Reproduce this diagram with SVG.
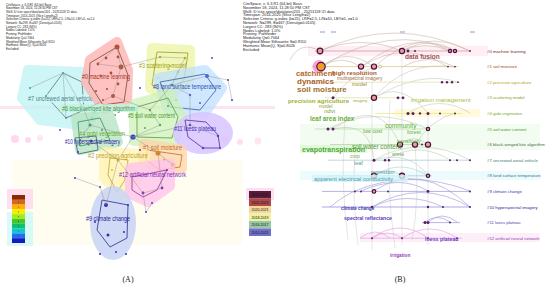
<svg xmlns="http://www.w3.org/2000/svg" width="550" height="289" viewBox="0 0 550 289">
<style>
text{font-family:"Liberation Sans",Arial,sans-serif}
.hd{font-size:3px;fill:#222}
.hdr{font-size:3.9px;fill:#222}
.cl{font-size:6.5px}
.hull{stroke-width:10;stroke-linejoin:round}
.ol{fill:none;stroke-width:0.8}
.e{stroke:#8a8a8a;stroke-width:0.5;fill:none;opacity:0.8}
.arc{fill:none;stroke-width:0.6}
.row{stroke-width:0.7}
.rl{font-size:4.3px}
.kw{font-weight:bold}
.bn{stroke:#4a1040;stroke-width:1.2;fill:#e6a0a0}
.sn{fill:#5a2060}
.cap{font-family:"Liberation Serif","Times New Roman",serif;font-size:8px;fill:#222}
.lg{font-size:3.6px;fill:#111}
</style>

<rect width="550" height="289" fill="#ffffff"/>

<!-- ===== Panel A ===== -->
<g id="panelA-bg">
<rect x="12" y="160" width="230" height="85" fill="#fffbe4" opacity="0.6"/>
<rect x="0" y="106" width="275" height="3" fill="#ffd0e8" opacity="0.6"/>
<circle cx="15" cy="139" r="4" fill="#ffc8e8" opacity="0.7"/>
<circle cx="28" cy="140" r="3" fill="#ffc8e8" opacity="0.7"/>
<circle cx="40" cy="138" r="3" fill="#ffd4ec" opacity="0.6"/>
<circle cx="225" cy="140" r="3.5" fill="#ffc8e8" opacity="0.6"/>
<circle cx="240" cy="142" r="3" fill="#ffc8e8" opacity="0.6"/>
<circle cx="258" cy="141" r="3.5" fill="#ffd4ec" opacity="0.6"/>
</g>

<g id="headerA">
<text class="hd" x="6" y="5.5">CiteSpace, v. 6.3.R1 (64-bit) Basic</text>
<text class="hd" x="6" y="9.2">November 18, 2024, 11:28:50 PM CST</text>
<text class="hd" x="6" y="12.9">WoS: D:\cite space\data\wos\201 - 20251118 \2\ data</text>
<text class="hd" x="6" y="16.6">Timespan: 2014-2025 (Slice Length=2)</text>
<text class="hd" x="6" y="20.3">Selection Criteria: g-index (k=25), LRF=2.5, L/N=10, LBY=5, e=1.0</text>
<text class="hd" x="6" y="24">Network: N=299, E=467 (Density=0.0105)</text>
<text class="hd" x="6" y="27.7">Largest CC: 283 (94%)</text>
<text class="hd" x="6" y="31.4">Nodes Labeled: 1.0%</text>
<text class="hd" x="6" y="35.1">Pruning: Pathfinder</text>
<text class="hd" x="6" y="38.8">Modularity Q=0.7064</text>
<text class="hd" x="6" y="42.5">Weighted Mean Silhouette S=0.9110</text>
<text class="hd" x="6" y="46.2">Harmonic Mean(Q, S)=0.8026</text>
<text class="hd" x="6" y="49.9">Excluded:</text>
</g>

<!-- cluster hulls -->
<g id="a-c7"><polygon class="hull" points="28,70 82,72 96,108 88,126 40,120 22,98" fill="#bff3f3" stroke="#bff3f3" opacity="0.75"/>
<polygon class="ol" stroke="#557878" points="63,73 82,82 84,110 66,118 46,96"/>
<rect x="26" y="94.5" width="70" height="8" fill="#ccf7f7" opacity="0.8"/>
<circle cx="63" cy="73" r="1" fill="#3aa0a0"/><circle cx="84" cy="110" r="1.2" fill="#3aa0a0"/><circle cx="66" cy="118" r="1" fill="#3aa0a0"/><circle cx="46" cy="96" r="1" fill="#3aa0a0"/><circle cx="30" cy="88" r="1" fill="#3aa0a0"/>
<text class="cl" x="28" y="100.5" fill="#4f7f80" textLength="65" lengthAdjust="spacingAndGlyphs">#7 uncrewed aerial vehicle</text></g>

<g id="a-c0"><polygon class="hull" points="90,60 117,42 128,70 127,104 103,108 86,82" fill="#ffb3b3" stroke="#ffb3b3" opacity="0.8"/>
<polygon class="ol" stroke="#7a4a2a" points="90,63 117,47 128,75 124,102 103,105 89,83"/>
<circle cx="117" cy="47" r="2.5" fill="#b0502a"/><circle cx="118" cy="57" r="1.4" fill="#b0502a"/><circle cx="106" cy="58" r="1.4" fill="#b0502a"/><circle cx="98" cy="64" r="1.4" fill="#b0502a"/><circle cx="121" cy="67" r="2.4" fill="#b0502a"/><circle cx="111" cy="73" r="1.4" fill="#b0502a"/><circle cx="101" cy="76" r="1.1" fill="#b0502a"/><circle cx="118" cy="84" r="1.4" fill="#b0502a"/><circle cx="107" cy="89" r="1.1" fill="#b0502a"/><circle cx="96" cy="91" r="1.1" fill="#b0502a"/><circle cx="113" cy="96" r="2" fill="#b0502a"/><circle cx="103" cy="100" r="1.1" fill="#b0502a"/>
<text class="cl" x="82" y="79" fill="#a33420" textLength="48" lengthAdjust="spacingAndGlyphs">#0 machine learning</text></g>

<g id="a-c3"><polygon class="hull" points="152,48 190,50 190,80 168,98 150,88" fill="#eef5a8" stroke="#eef5a8" opacity="0.8"/>
<polygon class="ol" stroke="#9a9a30" points="157,52 188,53 184,80 165,95 152,85"/>
<circle cx="160" cy="57" r="1.3" fill="#b8b830"/><circle cx="185" cy="58" r="1.3" fill="#b8b830"/><circle cx="178" cy="72" r="1.5" fill="#b8b830"/><circle cx="170" cy="66" r="1" fill="#b8b830"/><circle cx="158" cy="78" r="1" fill="#b8b830"/>
<text class="cl" x="139" y="68" fill="#a0a020" textLength="47" lengthAdjust="spacingAndGlyphs">#3 scattering model</text></g>

<g id="a-c8"><polygon class="hull" points="158,78 205,70 222,88 205,113 168,110" fill="#bfe0ff" stroke="#bfe0ff" opacity="0.75"/>
<polygon class="ol" stroke="#3a5aa0" points="160,82 205,74 216,90 200,110 170,107"/>
<circle cx="207" cy="76" r="2" fill="#3a6ad0"/><circle cx="172" cy="85" r="1.2" fill="#3a6ad0"/><circle cx="190" cy="95" r="1.2" fill="#3a6ad0"/><circle cx="200" cy="103" r="1" fill="#3a6ad0"/><circle cx="176" cy="100" r="1" fill="#3a6ad0"/>
<text class="cl" x="153" y="89" fill="#3050b0" textLength="68" lengthAdjust="spacingAndGlyphs">#8 land surface temperature</text></g>

<g id="a-c5"><polygon class="hull" points="134,104 170,94 182,117 174,142 134,141" fill="#cdf2b8" stroke="#cdf2b8" opacity="0.75"/>
<polygon class="ol" stroke="#5a9a3a" points="137,107 168,98 178,117 172,138 137,137"/>
<circle cx="150" cy="110" r="1.2" fill="#50b040"/><circle cx="160" cy="125" r="1.2" fill="#50b040"/><circle cx="145" cy="128" r="1" fill="#50b040"/><circle cx="168" cy="106" r="1" fill="#50b040"/>
<circle cx="133" cy="137" r="2.6" fill="#3a3ad0"/>
<text class="cl" x="128" y="118" fill="#4c9a2c" textLength="47" lengthAdjust="spacingAndGlyphs">#5 soil water content</text></g>

<g id="a-c11"><ellipse cx="203" cy="133" rx="30" ry="21" fill="#d8c4ff" opacity="0.85"/>
<polygon class="ol" stroke="#4a30a0" points="185,120 206,122 218,135 220,148 203,148 188,137"/>
<circle cx="218" cy="136" r="1.2" fill="#5a3ac0"/><circle cx="203" cy="148" r="1.2" fill="#5a3ac0"/><circle cx="190" cy="125" r="1.2" fill="#5a3ac0"/><circle cx="220" cy="148" r="1" fill="#5a3ac0"/>
<text class="cl" x="174" y="131" fill="#3a2ac0" textLength="42" lengthAdjust="spacingAndGlyphs">#11 loess plateau</text></g>

<g id="a-c6"><rect x="60" y="104" width="78" height="8" fill="#c4f4dc" opacity="0.8"/>
<circle cx="92" cy="118" r="1" fill="#40a060"/><circle cx="115" cy="115" r="1" fill="#40a060"/>
<text class="cl" x="62" y="110.5" fill="#3a9a5a" textLength="73" lengthAdjust="spacingAndGlyphs">#6 black-winged kite algorithm</text></g>

<g id="a-c4"><polygon class="hull" points="76,118 110,116 118,142 80,150" fill="#b4e4c0" stroke="#b4e4c0" opacity="0.75"/>
<polygon class="ol" stroke="#3a8a6a" points="78,122 100,118 110,140 80,146"/>
<circle cx="90" cy="125" r="1.5" fill="#30a060"/><circle cx="80" cy="140" r="1.2" fill="#30a060"/><circle cx="102" cy="130" r="1" fill="#30a060"/>
<text class="cl" x="79" y="135.5" fill="#6aac2c" textLength="46" lengthAdjust="spacingAndGlyphs">#4 gobi vegetation</text></g>

<g id="a-c10"><polygon class="ol" stroke="#3a6070" points="75,138 96,136 98,150 78,154"/>
<circle cx="91" cy="141" r="1.5" fill="#3a3ad0"/><circle cx="78" cy="152" r="1" fill="#3a3ad0"/>
<text class="cl" x="65" y="144" fill="#2a1aa0" textLength="55" lengthAdjust="spacingAndGlyphs">#10 hyperspectral imagery</text></g>

<g id="a-c1"><polygon class="hull" points="144,144 182,150 182,168 160,172 143,160" fill="#ffd4a8" stroke="#ffd4a8" opacity="0.75"/>
<polygon class="ol" stroke="#c07020" points="147,150 182,155 180,167 160,170 146,160"/>
<circle cx="158" cy="153" r="2.6" fill="#e08a20"/><circle cx="173" cy="165" r="2.3" fill="#e08a20"/><circle cx="164" cy="160" r="1.2" fill="#e08a20"/>
<text class="cl" x="143" y="149.5" fill="#c06a18" textLength="39" lengthAdjust="spacingAndGlyphs">#1 soil moisture</text></g>

<g id="a-c2"><polygon class="hull" points="104,152 146,154 140,176 120,194 104,178" fill="#fff3b0" stroke="#fff3b0" opacity="0.75"/>
<polygon class="ol" stroke="#c0a030" points="110,158 128,160 125,180 117,192 108,175"/>
<circle cx="118" cy="160" r="1.6" fill="#d8c020"/><circle cx="125" cy="178" r="1" fill="#d8c020"/><circle cx="112" cy="170" r="1" fill="#d8c020"/>
<text class="cl" x="88" y="158" fill="#bca020" textLength="60" lengthAdjust="spacingAndGlyphs">#2 precision agriculture</text></g>

<g id="a-c12"><polygon class="hull" points="130,168 170,164 170,186 148,202 130,194" fill="#ffc4ec" stroke="#ffc4ec" opacity="0.8"/>
<polygon class="ol" stroke="#9030a0" points="132,177 167,170 157,190 143,197 132,190"/>
<circle cx="143" cy="193" r="1.4" fill="#7a30b0"/><circle cx="162" cy="188" r="1.4" fill="#7a30b0"/><circle cx="167" cy="170" r="1" fill="#7a30b0"/>
<text class="cl" x="119" y="176.5" fill="#7a2ac0" textLength="67" lengthAdjust="spacingAndGlyphs">#12 artificial neural network</text></g>

<g id="a-c9"><ellipse cx="113" cy="223" rx="23" ry="37" fill="#c8d4f6" opacity="0.85"/>
<polygon class="ol" stroke="#2a2a90" points="102,200 128,205 127,238 110,247 97,230"/>
<circle cx="106" cy="205" r="2" fill="#3030b0"/><circle cx="108" cy="235" r="1.5" fill="#3030b0"/><circle cx="95" cy="222" r="1" fill="#3030b0"/><circle cx="124" cy="232" r="1" fill="#3030b0"/><circle cx="128" cy="205" r="1" fill="#3030b0"/><circle cx="100" cy="254" r="1" fill="#3030b0"/><circle cx="116" cy="252" r="1" fill="#3030b0"/><circle cx="126" cy="254" r="1" fill="#3030b0"/>
<text class="cl" x="86" y="220.5" fill="#24249a" textLength="44" lengthAdjust="spacingAndGlyphs">#9 climate change</text></g>

<g id="a-dots">
<circle cx="75" cy="178" r="1" fill="#3a3ad0"/><circle cx="100" cy="187" r="1" fill="#3a3ad0"/><circle cx="146" cy="212" r="1" fill="#3a3ad0"/><circle cx="152" cy="203" r="1" fill="#3a3ad0"/>
<circle cx="228" cy="80" r="1" fill="#3a3ad0"/><circle cx="232" cy="100" r="1" fill="#3a3ad0"/><circle cx="212" cy="58" r="0.9" fill="#3a3ad0"/><circle cx="140" cy="88" r="0.9" fill="#3a3ad0"/>
<circle cx="60" cy="130" r="0.9" fill="#3a3ad0"/><circle cx="140" cy="150" r="1" fill="#3a3ad0"/>
</g>

<g id="a-connectors">
<path class="e" d="M117,47L121,67L113,96M121,67L98,64L117,47M113,96L150,110M121,67L160,57L185,58L178,72L172,85L207,76M172,85L190,95M172,85L150,110L160,125L133,137L158,153L173,165M133,137L118,160L143,193L162,188L158,153M133,137L190,125L218,136M84,110L66,118L63,73L84,110L113,96M84,110L90,125L133,137M90,125L80,140L91,141L118,160M106,205L118,160M106,205L100,187L75,178M143,193L146,212L152,203M207,76L228,80L232,100M190,95L190,125M63,73L30,88"/>
</g>

<g id="a-legend">
<rect x="7" y="189" width="26" height="20" fill="#ffd0ec" opacity="0.7"/>
<rect x="7" y="212" width="26" height="34" fill="#c8f8f8" opacity="0.7"/>
<rect x="12" y="195" width="13" height="4.8" fill="#8b2a00"/>
<rect x="12" y="199.8" width="13" height="4.8" fill="#d2691e"/>
<rect x="12" y="204.6" width="13" height="4.8" fill="#ffb000"/>
<rect x="12" y="209.4" width="13" height="4.8" fill="#f0f000"/>
<rect x="12" y="214.2" width="13" height="4.8" fill="#a8e820"/>
<rect x="12" y="219" width="13" height="4.8" fill="#40c830"/>
<rect x="12" y="223.8" width="13" height="4.8" fill="#10c070"/>
<rect x="12" y="228.6" width="13" height="4.8" fill="#10c8d0"/>
<rect x="12" y="233.4" width="13" height="4.8" fill="#2070f0"/>
<rect x="12" y="238.2" width="13" height="4.8" fill="#1818c0"/>
<g fill="#333" opacity="0.6"><circle cx="18.5" cy="197.4" r="0.6"/><circle cx="18.5" cy="202.2" r="0.6"/><circle cx="18.5" cy="207" r="0.6"/><circle cx="18.5" cy="211.8" r="0.6"/><circle cx="18.5" cy="216.6" r="0.6"/><circle cx="18.5" cy="221.4" r="0.6"/><circle cx="18.5" cy="226.2" r="0.6"/><circle cx="18.5" cy="231" r="0.6"/><circle cx="18.5" cy="235.8" r="0.6"/><circle cx="18.5" cy="240.6" r="0.6"/></g>
</g>

<text class="cap" x="128" y="282" text-anchor="middle">(A)</text>

<!-- ===== Panel B ===== -->
<g id="headerB">
<text class="hdr" x="243" y="5">CiteSpace, v. 6.3.R1 (64-bit) Basic</text>
<text class="hdr" x="243" y="8.8">November 18, 2024, 11:28:50 PM CST</text>
<text class="hdr" x="243" y="12.6">WoS: D:\cite space\data\wos\201 - 20251118 \2\ data</text>
<text class="hdr" x="243" y="16.4">Timespan: 2014-2025 (Slice Length=2)</text>
<text class="hdr" x="243" y="20.2">Selection Criteria: g-index (k=25), LRF=2.5, L/N=10, LBY=5, e=1.0</text>
<text class="hdr" x="243" y="24">Network: N=299, E=467 (Density=0.0105)</text>
<text class="hdr" x="243" y="27.8">Largest CC: 283 (94%)</text>
<text class="hdr" x="243" y="31.6">Nodes Labeled: 1.0%</text>
<text class="hdr" x="243" y="35.4">Pruning: Pathfinder</text>
<text class="hdr" x="243" y="39.2">Modularity Q=0.7064</text>
<text class="hdr" x="243" y="43">Weighted Mean Silhouette S=0.9110</text>
<text class="hdr" x="243" y="46.8">Harmonic Mean(Q, S)=0.8026</text>
<text class="hdr" x="243" y="50.6">Excluded:</text>
</g>

<g id="b-ticks" stroke="#a090d8" stroke-width="1">
<path d="M320,32h5M331,32h5M400,32h5M470,32h5"/>
</g>

<g id="b-bands">
<rect x="308" y="46" width="180" height="10" fill="#ffe4ec" opacity="0.6"/>
<rect x="395" y="109" width="85" height="8" fill="#fff6c8" opacity="0.6"/>
<rect x="300" y="124" width="240" height="26" fill="#e8fae4" opacity="0.5"/>
<rect x="300" y="171" width="240" height="9" fill="#e0f8fa" opacity="0.6"/>
<rect x="360" y="233" width="180" height="9" fill="#fbe4f6" opacity="0.6"/>
</g>

<g id="b-connectors">
<g class="arc" stroke="#b8a090" opacity="0.75">
<path d="M320,51Q395,15 470,51"/><path d="M321,67Q390,22 455,51"/><path d="M361,67Q410,28 450,51"/><path d="M374,67Q420,25 470,51"/><path d="M402,51Q430,35 455,51"/><path d="M402,51Q425,40 450,51"/><path d="M320,51Q360,34 402,51"/><path d="M321,67Q347,46 374,67"/><path d="M321,67Q341,53 361,67"/><path d="M361,67Q405,38 448,67"/><path d="M402,67Q428,52 455,67"/><path d="M320,51Q300,40 290,60"/>
</g>
<g class="arc" stroke="#a8b8a0" opacity="0.7">
<path d="M374,98Q405,60 455,67"/><path d="M333,98Q350,75 374,67"/><path d="M374,98Q420,70 458,82"/><path d="M328,129Q375,104 428,129"/><path d="M333,129Q380,95 400,145"/><path d="M400,145Q414,132 428,145"/><path d="M408,113Q440,94 470,113"/><path d="M374,98Q400,80 428,113"/><path d="M415,145Q430,120 455,113"/><path d="M374,160Q420,134 470,160"/><path d="M385,160Q418,140 450,160"/><path d="M333,129Q370,120 374,160"/>
</g>
<g class="arc" stroke="#90b8c8" opacity="0.7">
<path d="M374,176Q388,165 402,176"/><path d="M374,176Q400,158 428,176"/><path d="M374,160Q410,150 428,176"/>
</g>
<g class="arc" stroke="#7a70d0" opacity="0.75">
<path d="M355,191Q410,168 470,191"/><path d="M374,191Q420,160 470,207"/><path d="M361,191Q400,174 428,191"/><path d="M372,207Q420,178 470,207"/><path d="M372,207Q408,190 443,207"/><path d="M425,222Q437,213 450,222"/><path d="M428,222Q442,210 457,222"/><path d="M330,207Q345,195 355,191"/>
</g>
<g class="arc" stroke="#e080d0" opacity="0.8">
<path d="M372,238Q400,218 428,238"/><path d="M402,238Q430,220 457,238"/><path d="M372,238Q388,228 402,238"/><path d="M360,238Q375,226 390,238"/>
</g>
<g stroke="#b8b8b8" stroke-width="0.5" fill="none" opacity="0.7">
<path d="M372,67L372,250"/><path d="M402,51L402,245"/><path d="M428,113L428,245"/><path d="M355,150Q352,200 358,245"/><path d="M390,100Q385,180 395,248"/><path d="M345,120Q340,180 348,240"/><path d="M415,145Q420,200 412,240"/>
</g>
</g>

<g id="b-rows">
<g id="b-c0"><line class="row" x1="315" y1="51" x2="470" y2="51" stroke="#c89090"/>
<circle class="bn" cx="320" cy="51" r="2.8"/><circle class="bn" cx="402" cy="51" r="2.6"/><circle class="sn" cx="408" cy="51" r="1.4"/><circle class="sn" cx="415" cy="51" r="1.1"/><circle class="bn" cx="450" cy="51" r="1.6"/><circle class="bn" cx="455" cy="51" r="1.6"/><circle class="sn" cx="470" cy="51" r="0.9"/>
<text class="rl" x="487" y="52.5" fill="#7a1a1a">#0 machine learning</text></g>
<g id="b-c1"><line class="row" x1="312" y1="66.6" x2="458" y2="66.6" stroke="#e0c080"/>
<circle cx="319" cy="66.6" r="6.5" fill="#ff60c8" opacity="0.6"/><circle class="bn" cx="321" cy="66.6" r="4.2" style="fill:#f0a020"/><circle class="bn" cx="361" cy="66.6" r="2.6"/><circle class="bn" cx="374" cy="66.6" r="2.6"/><circle cx="380" cy="66.6" r="1.5" fill="#fff" stroke="#b0a040" stroke-width="0.6"/><circle class="sn" cx="448" cy="66.6" r="0.9"/><circle class="sn" cx="455" cy="66.6" r="0.9"/>
<text class="rl" x="487" y="68.1" fill="#9a4a1a">#1 soil moisture</text></g>
<g id="b-c2"><line class="row" x1="320" y1="82.2" x2="460" y2="82.2" stroke="#e8e0a0"/>
<circle class="sn" cx="442" cy="82.2" r="1.2"/><circle class="sn" cx="447" cy="82.2" r="1.2"/><circle class="sn" cx="452" cy="82.2" r="1.2"/><circle class="sn" cx="458" cy="82.2" r="0.9"/>
<text class="rl" x="487" y="83.7" fill="#b8a020">#2 precision agriculture</text></g>
<g id="b-c3"><line class="row" x1="325" y1="97.8" x2="405" y2="97.8" stroke="#d8e098"/>
<circle class="sn" cx="333" cy="97.8" r="1.5"/><circle class="bn" cx="374" cy="97.8" r="2.6"/><circle class="sn" cx="398" cy="97.8" r="1.4"/><circle class="sn" cx="403" cy="97.8" r="1.4"/>
<text class="rl" x="487" y="99.3" fill="#8aa028">#3 scattering model</text></g>
<g id="b-c4"><line class="row" x1="375" y1="113.4" x2="462" y2="113.4" stroke="#e8e870"/>
<circle class="sn" cx="408" cy="113.4" r="1.5"/><circle class="sn" cx="413" cy="113.4" r="1.5"/><circle class="sn" cx="420" cy="113.4" r="1.2"/><circle class="sn" cx="428" cy="113.4" r="1.5"/><circle class="sn" cx="440" cy="113.4" r="1"/><circle class="sn" cx="455" cy="113.4" r="1"/>
<text class="rl" x="487" y="114.9" fill="#78a828">#4 gobi vegetation</text></g>
<g id="b-c5"><line class="row" x1="315" y1="129" x2="430" y2="129" stroke="#b0d8a0"/>
<circle class="sn" cx="328" cy="129" r="1.5"/><circle class="sn" cx="333" cy="129" r="1.5"/><circle class="bn" cx="428" cy="129" r="1.7"/>
<text class="rl" x="487" y="130.5" fill="#4a9a2a">#5 soil water content</text></g>
<g id="b-c6"><line class="row" x1="330" y1="144.6" x2="430" y2="144.6" stroke="#a8c8a8"/>
<circle class="bn" cx="400" cy="144.6" r="2.6"/><circle class="bn" cx="415" cy="144.6" r="2.6"/><circle class="sn" cx="422" cy="144.6" r="1"/><circle class="bn" cx="428" cy="144.6" r="2.6"/>
<text class="rl" x="487" y="146.1" fill="#4a6a4a">#6 black-winged kite algorithm</text></g>
<g id="b-c7"><line class="row" x1="328" y1="160.2" x2="470" y2="160.2" stroke="#a8c8c8"/>
<circle class="sn" cx="374" cy="160.2" r="1.5"/><circle class="sn" cx="385" cy="160.2" r="1.2"/><circle class="sn" cx="389" cy="160.2" r="1.2"/><circle class="sn" cx="450" cy="160.2" r="1"/><circle class="sn" cx="457" cy="160.2" r="1"/><circle class="sn" cx="470" cy="160.2" r="1"/>
<text class="rl" x="487" y="161.7" fill="#3a7a70">#7 uncrewed aerial vehicle</text></g>
<g id="b-c8"><line class="row" x1="328" y1="175.8" x2="432" y2="175.8" stroke="#a0c8d8"/>
<circle class="bn" cx="374" cy="175.8" r="2.6"/><circle class="bn" cx="402" cy="175.8" r="2.6"/><circle class="bn" cx="428" cy="175.8" r="1.7"/>
<text class="rl" x="487" y="177.3" fill="#3a7090">#8 land surface temperature</text></g>
<g id="b-c9"><line class="row" x1="322" y1="191.4" x2="470" y2="191.4" stroke="#9090e0"/>
<circle class="sn" cx="355" cy="191.4" r="1"/><circle class="sn" cx="361" cy="191.4" r="1"/><circle class="bn" cx="374" cy="191.4" r="1.8"/><circle class="sn" cx="388" cy="191.4" r="1"/><circle class="sn" cx="428" cy="191.4" r="1.4"/><circle class="sn" cx="470" cy="191.4" r="1"/>
<text class="rl" x="487" y="192.9" fill="#3434b8">#9 climate change</text></g>
<g id="b-c10"><line class="row" x1="322" y1="207" x2="470" y2="207" stroke="#8a80e0"/>
<circle class="sn" cx="372" cy="207" r="1.2"/><circle class="sn" cx="428" cy="207" r="1.2"/><circle class="sn" cx="443" cy="207" r="1"/><circle class="sn" cx="470" cy="207" r="1"/>
<text class="rl" x="487" y="208.5" fill="#2a1aa0">#10 hyperspectral imagery</text></g>
<g id="b-c11"><line class="row" x1="422" y1="222.6" x2="460" y2="222.6" stroke="#a090e0"/>
<circle class="sn" cx="425" cy="222.6" r="1.5"/><circle class="sn" cx="428" cy="222.6" r="1.5"/><circle class="sn" cx="450" cy="222.6" r="1"/>
<text class="rl" x="487" y="224.1" fill="#4a3ab0">#11 loess plateau</text></g>
<g id="b-c12"><line class="row" x1="360" y1="238.2" x2="462" y2="238.2" stroke="#e0a0e0"/>
<circle class="sn" cx="372" cy="238.2" r="1"/><circle class="sn" cx="402" cy="238.2" r="1"/><circle class="sn" cx="428" cy="238.2" r="1"/><circle class="sn" cx="457" cy="238.2" r="1"/>
<text class="rl" x="487" y="239.7" fill="#8a3ab0">#12 artificial neural network</text></g>
</g>

<g id="b-keywords">
<rect x="300" y="145" width="67" height="8" fill="#d8f6d0" opacity="0.7"/>
<rect x="312" y="175" width="96" height="7" fill="#d4f4f8" opacity="0.8"/>
<text class="kw" x="405" y="59" font-size="6.5" fill="#a05050">data fusion</text>
<text class="kw" x="296" y="76" font-size="7.8" fill="#b06828">catchment</text>
<text class="kw" x="332" y="74.6" font-size="6.2" fill="#a85a2a">high resolution</text>
<text x="337" y="80.3" font-size="4.8" fill="#9a7040">multispectral imagery</text>
<text class="kw" x="297" y="84" font-size="8" fill="#a8602a">dynamics</text>
<text x="352" y="86" font-size="5.5" fill="#a08838">model</text>
<text class="kw" x="297" y="91.6" font-size="8" fill="#a07028">soil moisture</text>
<text class="kw" x="288" y="102.6" font-size="6.2" fill="#a0b030">precision agriculture</text>
<text x="353" y="101.5" font-size="4" fill="#a0a040">imagery</text>
<text x="411" y="102" font-size="6" fill="#b0b838">irrigation management</text>
<text x="319" y="107.6" font-size="5" fill="#9a9a40">model</text>
<text x="324" y="113" font-size="6" fill="#70a840">ndvi</text>
<text class="kw" x="310" y="120.5" font-size="6.4" fill="#68b038">leaf area index</text>
<text x="385" y="128" font-size="6.5" fill="#60b040">community</text>
<text x="363" y="132.7" font-size="5.3" fill="#60a840">low cost</text>
<text x="407" y="133.7" font-size="5.5" fill="#60b040">forest</text>
<text x="397" y="143" font-size="5.5" fill="#58b040">sensitivity</text>
<text x="352" y="149" font-size="6.3" fill="#58a038">soil water content</text>
<text class="kw" x="302" y="152" font-size="7" fill="#50a838">evapotranspiration</text>
<text x="392" y="155.5" font-size="4.5" fill="#60a040">stress</text>
<text x="350" y="158" font-size="5" fill="#8aa050">crop</text>
<text x="354" y="165" font-size="5.5" fill="#50a090">leaf</text>
<text x="371" y="174" font-size="5" fill="#50a0a0">regression</text>
<text x="314" y="180.5" font-size="5.8" fill="#4a98b0">apparent electrical conductivity</text>
<text class="kw" x="341" y="210" font-size="4.6" fill="#3a3ab0">climate change</text>
<text class="kw" x="344" y="220.3" font-size="5.1" fill="#5a3ac0">spectral reflectance</text>
<text class="kw" x="425" y="241" font-size="5.3" fill="#7040c0">loess plateau</text>
<text class="kw" x="390" y="257" font-size="4.7" fill="#9040c0">irrigation</text>
</g>

<g id="b-legend">
<rect x="246" y="188" width="28" height="12" fill="#ffc8ec" opacity="0.6"/>
<rect x="249" y="191" width="22" height="7.5" fill="#5a1a3a"/>
<rect x="249" y="198.5" width="22" height="7.5" fill="#b04848"/>
<rect x="249" y="206" width="22" height="7.5" fill="#f8d89a"/>
<rect x="249" y="213.5" width="22" height="7.5" fill="#eef2a0"/>
<rect x="249" y="221" width="22" height="7.5" fill="#98c8a8"/>
<rect x="249" y="228.5" width="22" height="7.5" fill="#7070c8"/>
<text class="lg" x="260" y="196" text-anchor="middle" fill="#ddd">2024-2025</text>
<text class="lg" x="260" y="203.5" text-anchor="middle">2022-2023</text>
<text class="lg" x="260" y="211" text-anchor="middle">2020-2021</text>
<text class="lg" x="260" y="218.5" text-anchor="middle">2018-2019</text>
<text class="lg" x="260" y="226" text-anchor="middle">2016-2017</text>
<text class="lg" x="260" y="233.5" text-anchor="middle">2014-2015</text>
</g>

<text class="cap" x="400" y="282" text-anchor="middle">(B)</text>
</svg>
